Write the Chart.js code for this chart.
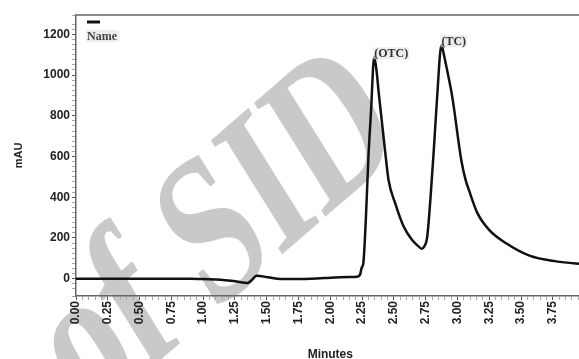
<!DOCTYPE html>
<html>
<head>
<meta charset="utf-8">
<script src="https://cdn.jsdelivr.net/npm/chart.js@4.4.0/dist/chart.umd.min.js"></script>
<style>
  html, body { margin: 0; padding: 0; background: #fff; overflow: hidden; }
  #wrap { width: 600px; height: 359px; }
</style>
</head>
<body>
<div id="wrap"><canvas id="chart" width="600" height="359"></canvas></div>
<script>
// chromatogram trace
const minutes = [0, 0.5, 0.9, 1.0, 1.14, 1.25, 1.35, 1.38, 1.42, 1.51, 1.61, 1.85, 2.04, 2.15, 2.21,
  2.234, 2.247, 2.26, 2.28, 2.30, 2.32, 2.345, 2.36, 2.384, 2.43, 2.458, 2.51, 2.577, 2.642, 2.70, 2.72,
  2.74, 2.761, 2.787, 2.814, 2.84, 2.874, 2.89, 2.92, 2.959, 3.03, 3.064, 3.09, 3.157, 3.249, 3.38,
  3.566, 3.776, 3.98, 4.0];
const mAU = [0, 0, 0, -2, -5, -13, -21, -8, 15, 7, -2, 0, 6, 8, 9,
  20, 54, 77, 300, 600, 820, 1087, 1040, 894, 632, 485, 371, 256, 191, 155, 147,
  160, 200, 387, 632, 890, 1147, 1110, 1020, 894, 583, 485, 436, 322, 240, 175,
  113, 85, 72, 71];

const seriesName = 'Name';
const peakLabels = ['(OTC)', '(TC)'];
const peakTimes = [2.345, 2.874];
const peakValues = [1087, 1147];

const xMajor = 0.25;
const yMajor = 200;
const watermark = 'of SID';

// extra drawing: watermark, frame top, legend entry, peak names
const extras = {
  id: 'extras',
  beforeDraw(chart) {
    const ctx = chart.ctx;
    ctx.save();
    // slanted, squeezed watermark text
    ctx.transform(0.566, -0.492, 0.53, 0.848, 88, 423);
    ctx.font = 'bold 205px "Liberation Serif"';
    ctx.fillStyle = '#c9c9c9';
    ctx.textAlign = 'left';
    ctx.textBaseline = 'alphabetic';
    ctx.fillText(watermark, 0, 0);
    ctx.restore();
  },
  afterDraw(chart) {
    const { ctx, chartArea, scales } = chart;
    ctx.save();
    // top frame line
    ctx.strokeStyle = '#8c8c8c';
    ctx.lineWidth = 2;
    ctx.beginPath();
    ctx.moveTo(chartArea.left, chartArea.top);
    ctx.lineTo(chartArea.right, chartArea.top);
    ctx.stroke();

    // legend: short line with the name under it
    ctx.strokeStyle = '#111';
    ctx.lineWidth = 3;
    ctx.beginPath();
    ctx.moveTo(chartArea.left + 11, chartArea.top + 7);
    ctx.lineTo(chartArea.left + 24, chartArea.top + 7);
    ctx.stroke();
    ctx.font = 'bold 12px "Liberation Serif"';
    ctx.textAlign = 'left';
    ctx.textBaseline = 'alphabetic';
    const nw = ctx.measureText(seriesName).width;
    ctx.fillStyle = 'rgba(225,225,225,0.6)';
    ctx.fillRect(chartArea.left + 10, chartArea.top + 15, nw + 3, 12);
    ctx.fillStyle = '#444';
    ctx.fillText(seriesName, chartArea.left + 11, chartArea.top + 25);

    // peak names
    peakLabels.forEach((txt, i) => {
      const px = scales.x.getPixelForValue(peakTimes[i]);
      const py = scales.y.getPixelForValue(peakValues[i]);
      const w = ctx.measureText(txt).width;
      ctx.fillStyle = 'rgba(225,225,225,0.6)';
      ctx.fillRect(px - 1, py - 10, w + 2, 12);
      ctx.fillStyle = '#333';
      ctx.fillText(txt, px, py);
    });
    ctx.restore();
  }
};

const tickFont = { family: 'Arial, "Liberation Sans"', size: 12, weight: 'bold' };

new Chart(document.getElementById('chart'), {
  type: 'line',
  data: {
    datasets: [{
      label: seriesName,
      data: minutes.map((m, i) => ({ x: m, y: mAU[i] })),
      borderColor: '#111',
      borderWidth: 2.5,
      pointRadius: 0,
      fill: false,
      cubicInterpolationMode: 'monotone'
    }]
  },
  options: {
    responsive: false,
    animation: false,
    layout: { padding: { top: 15, left: 10, right: 0, bottom: 0 } },
    plugins: { legend: { display: false }, tooltip: { enabled: false } },
    scales: {
      x: {
        type: 'linear',
        min: 0,
        max: 4,
        afterFit: s => { s.height = 63; },
        border: { color: '#666', width: 1.5 },
        grid: {
          drawOnChartArea: false,
          tickLength: 4,
          tickColor: c => Math.abs(c.tick.value / xMajor - Math.round(c.tick.value / xMajor)) < 1e-6 ? '#555' : '#aaa'
        },
        ticks: {
          stepSize: 0.05,
          autoSkip: false,
          minRotation: 90,
          maxRotation: 90,
          padding: 1,
          color: '#222',
          font: tickFont,
          callback: v => Math.abs(v / xMajor - Math.round(v / xMajor)) < 1e-6 ? v.toFixed(2) : ''
        },
        title: {
          display: true,
          text: 'Minutes',
          color: '#222',
          font: { family: 'Arial, "Liberation Sans"', size: 12, weight: 'bold', lineHeight: 0.75 },
          padding: { top: 0, bottom: 0 }
        }
      },
      y: {
        min: -85,
        max: 1295,
        afterFit: s => { s.width = 66; },
        border: { color: '#666', width: 1.5 },
        grid: {
          drawOnChartArea: false,
          tickLength: 4,
          tickColor: c => c.tick.value % yMajor === 0 ? '#555' : '#aaa'
        },
        ticks: {
          stepSize: 25,
          autoSkip: false,
          padding: 2,
          color: '#222',
          font: tickFont,
          callback: v => v % yMajor === 0 ? v : ''
        },
        title: {
          display: true,
          text: 'mAU',
          color: '#222',
          font: { family: 'Arial, "Liberation Sans"', size: 11, weight: 'bold' },
          padding: { top: 2, bottom: 0 }
        }
      }
    }
  },
  plugins: [extras]
});
</script>
</body>
</html>
